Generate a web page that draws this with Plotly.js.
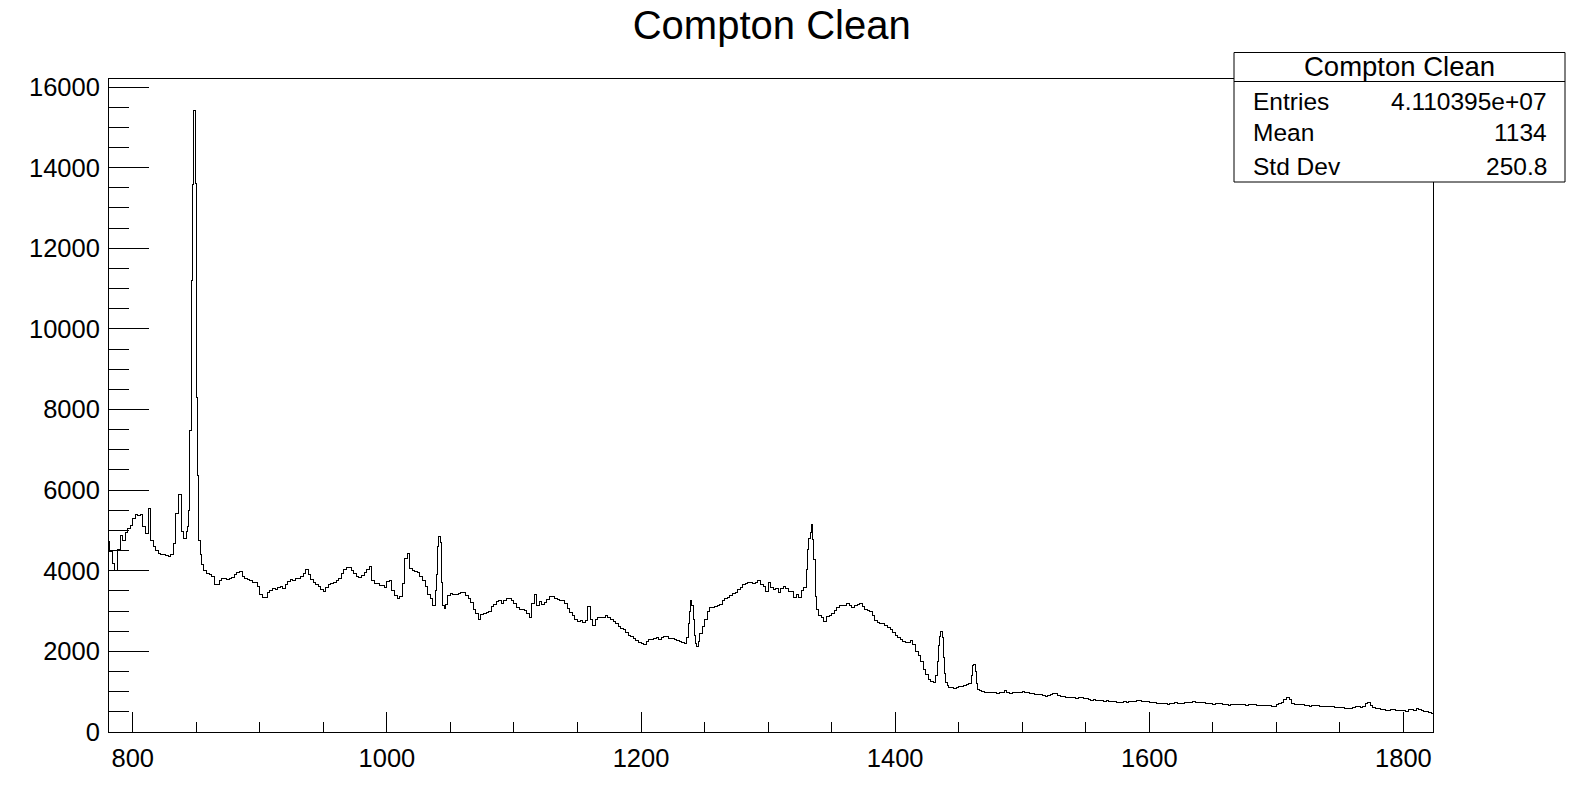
<!DOCTYPE html>
<html>
<head>
<meta charset="utf-8">
<script src="https://cdn.plot.ly/plotly-3.0.1.min.js"></script>
<style>
html,body{margin:0;padding:0;background:#fff;}
#chart{width:1589px;height:797px;}
#chart .scatterlayer path.js-line{shape-rendering:crispEdges;}
</style>
</head>
<body>
<div id="chart"></div>
<script>
// Histogram "Compton Clean": low edge of each bin and its content
const binEdges = [
780,782,784,786,788,790,792,794,796,798,800,802,804,806,808,810,812,814,816,818,
820,822,824,826,828,830,832,834,836,838,840,842,843,844,845,846,847,848,849,850,
851,852,853,854,856,858,860,862,864,866,868,870,872,874,876,878,880,882,884,886,
888,890,892,894,896,898,900,902,904,906,908,910,912,914,916,918,920,922,924,926,
928,930,932,934,936,938,940,942,944,946,948,950,952,954,956,958,960,962,964,966,
968,970,972,974,976,978,980,982,984,986,988,990,992,994,996,998,1000,1002,1004,1006,
1008,1010,1012,1014,1016,1018,1020,1022,1024,1026,1028,1030,1032,1034,1036,1038,1039,1040,1041,1042,
1043,1044,1045,1046,1048,1050,1052,1054,1056,1058,1060,1062,1064,1066,1068,1070,1072,1074,1076,1078,
1080,1082,1084,1086,1088,1090,1092,1094,1096,1098,1100,1102,1104,1106,1108,1110,1112,1114,1116,1118,
1120,1122,1124,1126,1128,1130,1132,1134,1136,1138,1140,1142,1144,1146,1148,1150,1152,1154,1156,1158,
1160,1162,1164,1166,1168,1170,1172,1174,1176,1178,1180,1182,1184,1186,1188,1190,1192,1194,1196,1198,
1200,1202,1204,1206,1208,1210,1212,1214,1216,1218,1220,1222,1224,1226,1228,1230,1232,1234,1236,1237,
1238,1239,1240,1241,1242,1243,1244,1245,1246,1248,1250,1252,1254,1256,1258,1260,1262,1264,1266,1268,
1270,1272,1274,1276,1278,1280,1282,1284,1286,1288,1290,1292,1294,1296,1298,1300,1302,1304,1306,1308,
1310,1312,1314,1316,1318,1320,1322,1324,1326,1328,1330,1331,1332,1333,1334,1335,1336,1337,1338,1340,
1342,1344,1346,1348,1350,1352,1354,1356,1358,1360,1362,1364,1366,1368,1370,1372,1374,1376,1378,1380,
1382,1384,1386,1388,1390,1392,1394,1396,1398,1400,1402,1404,1406,1408,1410,1412,1414,1416,1418,1420,
1422,1424,1426,1428,1430,1432,1433,1434,1435,1436,1437,1438,1439,1440,1441,1442,1444,1446,1448,1450,
1452,1454,1456,1458,1460,1461,1462,1463,1464,1465,1466,1468,1470,1472,1474,1476,1478,1480,1482,1484,
1486,1488,1490,1492,1494,1496,1498,1500,1502,1504,1506,1508,1510,1512,1514,1516,1518,1520,1522,1524,
1526,1528,1530,1532,1534,1536,1538,1540,1542,1544,1546,1548,1550,1552,1554,1556,1558,1560,1562,1564,
1566,1568,1570,1572,1574,1576,1578,1580,1582,1584,1586,1588,1590,1592,1594,1596,1598,1600,1602,1604,
1606,1608,1610,1612,1614,1616,1618,1620,1622,1624,1626,1628,1630,1632,1634,1636,1638,1640,1642,1644,
1646,1648,1650,1652,1654,1656,1658,1660,1662,1664,1666,1668,1670,1672,1674,1676,1678,1680,1682,1684,
1686,1688,1690,1692,1694,1696,1698,1700,1702,1704,1706,1708,1710,1712,1714,1716,1718,1720,1722,1724,
1726,1728,1730,1732,1734,1736,1738,1740,1742,1744,1746,1748,1750,1752,1754,1756,1758,1760,1762,1764,
1766,1768,1770,1772,1774,1776,1778,1780,1782,1784,1786,1788,1790,1792,1794,1796,1798,1800,1802,1804,
1806,1808,1810,1812,1814,1816,1818,1820,1822
];
const lastEdge = 1824;
const binCounts = [
4720,4470,4190,4000,4520,4880,4750,4950,5060,5120,5300,5390,5380,5400,5100,4930,5550,4750,4590,4500,
4420,4410,4400,4380,4350,4400,4680,5430,5900,4970,4800,4970,5100,5500,7490,11190,13590,15410,13600,8290,
6360,4750,4400,4150,4000,3920,3900,3870,3650,3650,3760,3800,3800,3780,3810,3830,3900,3950,3990,3860,
3820,3790,3760,3700,3720,3600,3420,3340,3340,3450,3510,3550,3530,3580,3600,3560,3660,3740,3780,3760,
3800,3820,3860,3920,4030,3900,3790,3720,3660,3600,3540,3490,3580,3660,3680,3710,3750,3800,3920,4040,
4070,4090,4010,3930,3850,3840,3880,3960,4030,4110,3750,3680,3680,3640,3640,3590,3740,3760,3500,3380,
3320,3360,3680,4300,4440,4060,4000,3990,3950,3860,3770,3600,3420,3300,3150,3500,3900,4600,4850,4700,
3700,3150,3070,3170,3380,3430,3400,3420,3440,3450,3470,3380,3300,3220,3050,2940,2780,2910,2940,2960,
3000,3110,3160,3240,3260,3200,3260,3300,3310,3270,3200,3090,3040,3040,3010,2940,2830,3200,3420,3130,
3250,3160,3220,3280,3350,3360,3310,3290,3260,3270,3180,3060,2970,2900,2780,2740,2760,2720,2760,3120,
2800,2650,2800,2840,2830,2840,2880,2840,2780,2730,2690,2620,2580,2550,2480,2400,2360,2330,2280,2230,
2200,2170,2240,2290,2300,2320,2350,2290,2340,2370,2360,2320,2330,2290,2270,2240,2210,2190,2350,2700,
3000,3270,3150,2800,2400,2200,2110,2250,2450,2620,2790,3000,3080,3090,3110,3130,3160,3260,3300,3340,
3380,3440,3460,3530,3590,3650,3680,3720,3720,3690,3700,3760,3660,3620,3480,3720,3590,3540,3560,3460,
3560,3620,3560,3490,3480,3340,3400,3330,3500,3580,4020,4520,4810,4950,5140,4770,4270,3350,3030,2900,
2850,2740,2860,2900,2930,3020,3090,3130,3150,3150,3190,3130,3080,3150,3160,3200,3110,3040,3010,2990,
2880,2770,2710,2690,2680,2650,2600,2540,2470,2390,2340,2290,2250,2230,2210,2260,2180,2000,1900,1740,
1560,1420,1310,1250,1240,1400,1750,2150,2380,2490,2350,1850,1450,1240,1160,1110,1100,1090,1110,1130,
1140,1160,1180,1200,1400,1640,1680,1500,1200,1060,1020,995,990,975,985,970,980,960,975,990,
1030,970,960,975,985,970,990,1010,980,975,960,950,930,925,920,910,880,895,940,960,
945,900,880,870,860,850,865,850,840,855,860,835,830,810,790,800,780,770,775,760,
770,755,748,745,735,725,735,745,740,750,760,765,770,770,760,748,745,735,730,722,
715,705,700,695,688,700,715,720,705,705,715,730,728,735,745,740,738,730,720,705,
700,695,690,695,700,705,680,670,664,675,680,684,688,680,672,664,670,680,672,660,
655,665,665,660,650,645,640,680,705,730,800,846,800,705,688,680,672,676,660,648,
640,655,664,650,640,630,622,630,639,626,620,612,606,598,590,581,595,615,622,622,
615,630,710,722,650,600,585,575,562,556,540,545,552,556,545,535,540,523,520,560,
556,540,575,556,540,520,498,480,460
];

// Axis ticks
const xTickStep = 200, xMinorStep = 50;
const yTickStep = 2000, yMinorStep = 500;
const xRange = [781.3, 1823.3];
const yRange = [0, 16200];

// Stats box
const histTitle = 'Compton Clean';
const statsLabels = ['Entries', 'Mean', 'Std Dev'];
const statsValues = ['4.110395e+07', '1134', '250.8'];

const xs = binEdges.concat([lastEdge]);
const ys = binCounts.concat([binCounts[binCounts.length - 1]]);

const FONT = 'Liberation Sans, Arial, Helvetica, sans-serif';
const W = 1589, H = 797;
const M = {l: 109, r: 156, t: 79, b: 65};
const pw = W - M.l - M.r, ph = H - M.t - M.b;
const px = v => (v - M.l) / pw;          // pixel x -> paper x
const py = v => (H - M.b - v) / ph;      // pixel y -> paper y

const trace = {
  x: xs, y: ys, type: 'scatter', mode: 'lines',
  line: {shape: 'hv', color: '#000', width: 1},
  hoverinfo: 'x+y', showlegend: false
};

const rowY = [101.5, 133, 166];
const annotations = [
  {text: histTitle, xref: 'paper', yref: 'paper', x: px(1399.5), y: py(66.5),
   xanchor: 'center', yanchor: 'middle', showarrow: false, font: {family: FONT, size: 27.5, color: '#000'}}
];
statsLabels.forEach((lab, i) => {
  annotations.push({text: lab, xref: 'paper', yref: 'paper', x: px(1251), y: py(rowY[i]),
    xanchor: 'left', yanchor: 'middle', showarrow: false, font: {family: FONT, size: 24.5, color: '#000'}});
  annotations.push({text: statsValues[i], xref: 'paper', yref: 'paper', x: px(1549), y: py(rowY[i]),
    xanchor: 'right', yanchor: 'middle', showarrow: false, font: {family: FONT, size: 24.5, color: '#000'}});
});

const shapes = [
  {type: 'rect', xref: 'paper', yref: 'paper', x0: px(1234), x1: px(1565), y0: py(182), y1: py(52.5),
   line: {color: '#000', width: 1}, fillcolor: '#fff', layer: 'above'},
  {type: 'line', xref: 'paper', yref: 'paper', x0: px(1234), x1: px(1565), y0: py(81.5), y1: py(81.5),
   line: {color: '#000', width: 1}, layer: 'above'}
];

const axisCommon = {
  showline: true, linecolor: '#000', linewidth: 1, mirror: true,
  showgrid: false, zeroline: false, ticks: 'inside', tickcolor: '#000', tickwidth: 1,
  tickformat: 'd',
  tickfont: {family: FONT, size: 25.5, color: '#000'}
};

const layout = {
  width: W, height: H, margin: M,
  paper_bgcolor: '#fff', plot_bgcolor: '#fff',
  title: {text: histTitle, x: 761.5 / 1568, xanchor: 'center', xref: 'container',
          y: 1 - 25 / 786, yref: 'container', yanchor: 'middle',
          font: {family: FONT, size: 40, color: '#000'}},
  xaxis: Object.assign({}, axisCommon, {
    range: xRange, tick0: 0, dtick: xTickStep, ticklen: 20, ticklabelstandoff: 3,
    minor: {dtick: xMinorStep, tick0: 0, ticklen: 10, ticks: 'inside', tickcolor: '#000', tickwidth: 1, showgrid: false}
  }),
  yaxis: Object.assign({}, axisCommon, {
    range: yRange, tick0: 0, dtick: yTickStep, ticklen: 40, ticklabelstandoff: 3,
    minor: {dtick: yMinorStep, tick0: 0, ticklen: 20, ticks: 'inside', tickcolor: '#000', tickwidth: 1, showgrid: false}
  }),
  annotations: annotations,
  shapes: shapes
};

Plotly.newPlot('chart', [trace], layout, {displayModeBar: false, staticPlot: true});
</script>
</body>
</html>
